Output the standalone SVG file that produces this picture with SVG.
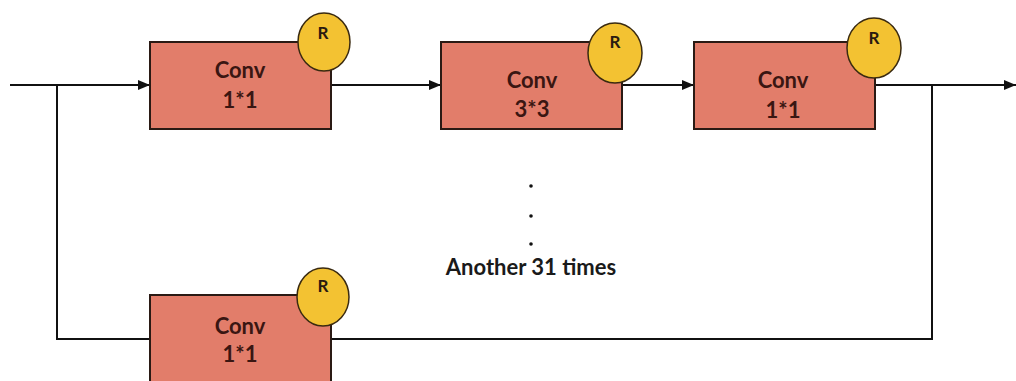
<svg xmlns="http://www.w3.org/2000/svg" width="1016" height="381" viewBox="0 0 1016 381">
  <style>
    .box { fill: #e27d6a; stroke: #2a1a14; stroke-width: 2; }
    .res { fill: #f3c232; stroke: #3a2a10; stroke-width: 1.5; }
    .lbl { font-family: "Lato", "Open Sans", "Liberation Sans", sans-serif; font-weight: bold; font-size: 22px; fill: #3a1612; text-anchor: middle; }
    .rl { font-family: "Lato", "Open Sans", "Liberation Sans", sans-serif; font-weight: bold; font-size: 17px; fill: #2a1a10; text-anchor: middle; }
    .wire { fill: none; stroke: #111; stroke-width: 2; }
    .note { font-family: "Lato", "Open Sans", "Liberation Sans", sans-serif; font-weight: bold; font-size: 22px; fill: #1a1a1a; text-anchor: middle; }
  </style>
  <defs>
    <marker id="arrow" viewBox="0 0 12 10" refX="12" refY="5" markerWidth="12" markerHeight="10" markerUnits="userSpaceOnUse" orient="auto">
      <path d="M0,0 L12,5 L0,10 z" fill="#111"/>
    </marker>
  </defs>
  <rect width="1016" height="381" fill="#fff"/>

  <!-- connectors -->
  <g id="connectors">
    <path class="wire" d="M10,85 H150" marker-end="url(#arrow)"/>
    <path class="wire" d="M331,85 H441" marker-end="url(#arrow)"/>
    <path class="wire" d="M622,85 H694" marker-end="url(#arrow)"/>
    <path class="wire" d="M875,85 H1016" marker-end="url(#arrow)"/>
    <!-- skip path -->
    <path class="wire" d="M57,85 V339 H150"/>
    <path class="wire" d="M331,339 H932 V85"/>
  </g>

  <g id="conv1">
    <rect class="box" x="150" y="42" width="181" height="87"/>
    <text class="lbl" x="240" y="78">Conv</text>
    <text class="lbl" x="240" y="108">1*1</text>
    <ellipse class="res" cx="324" cy="42" rx="26" ry="29"/>
    <text class="rl" x="323" y="39">R</text>
  </g>

  <g id="conv2">
    <rect class="box" x="441" y="42" width="181" height="87"/>
    <text class="lbl" x="532" y="88">Conv</text>
    <text class="lbl" x="532" y="117">3*3</text>
    <ellipse class="res" cx="615" cy="53" rx="27" ry="30"/>
    <text class="rl" x="615" y="48">R</text>
  </g>

  <g id="conv3">
    <rect class="box" x="694" y="42" width="181" height="87"/>
    <text class="lbl" x="783" y="88">Conv</text>
    <text class="lbl" x="783" y="118">1*1</text>
    <ellipse class="res" cx="874" cy="48" rx="27" ry="30"/>
    <text class="rl" x="874" y="44">R</text>
  </g>

  <g id="repeat-note">
    <circle cx="531" cy="186" r="1.8" fill="#111"/>
    <circle cx="531" cy="216" r="1.8" fill="#111"/>
    <circle cx="531" cy="244" r="1.8" fill="#111"/>
    <text class="note" x="531" y="275">Another 31 times</text>
  </g>

  <g id="conv-last">
    <rect class="box" x="150" y="295" width="181" height="100"/>
    <text class="lbl" x="240" y="334">Conv</text>
    <text class="lbl" x="240" y="362">1*1</text>
    <ellipse class="res" cx="323" cy="297" rx="26" ry="29"/>
    <text class="rl" x="323" y="292">R</text>
  </g>
</svg>
